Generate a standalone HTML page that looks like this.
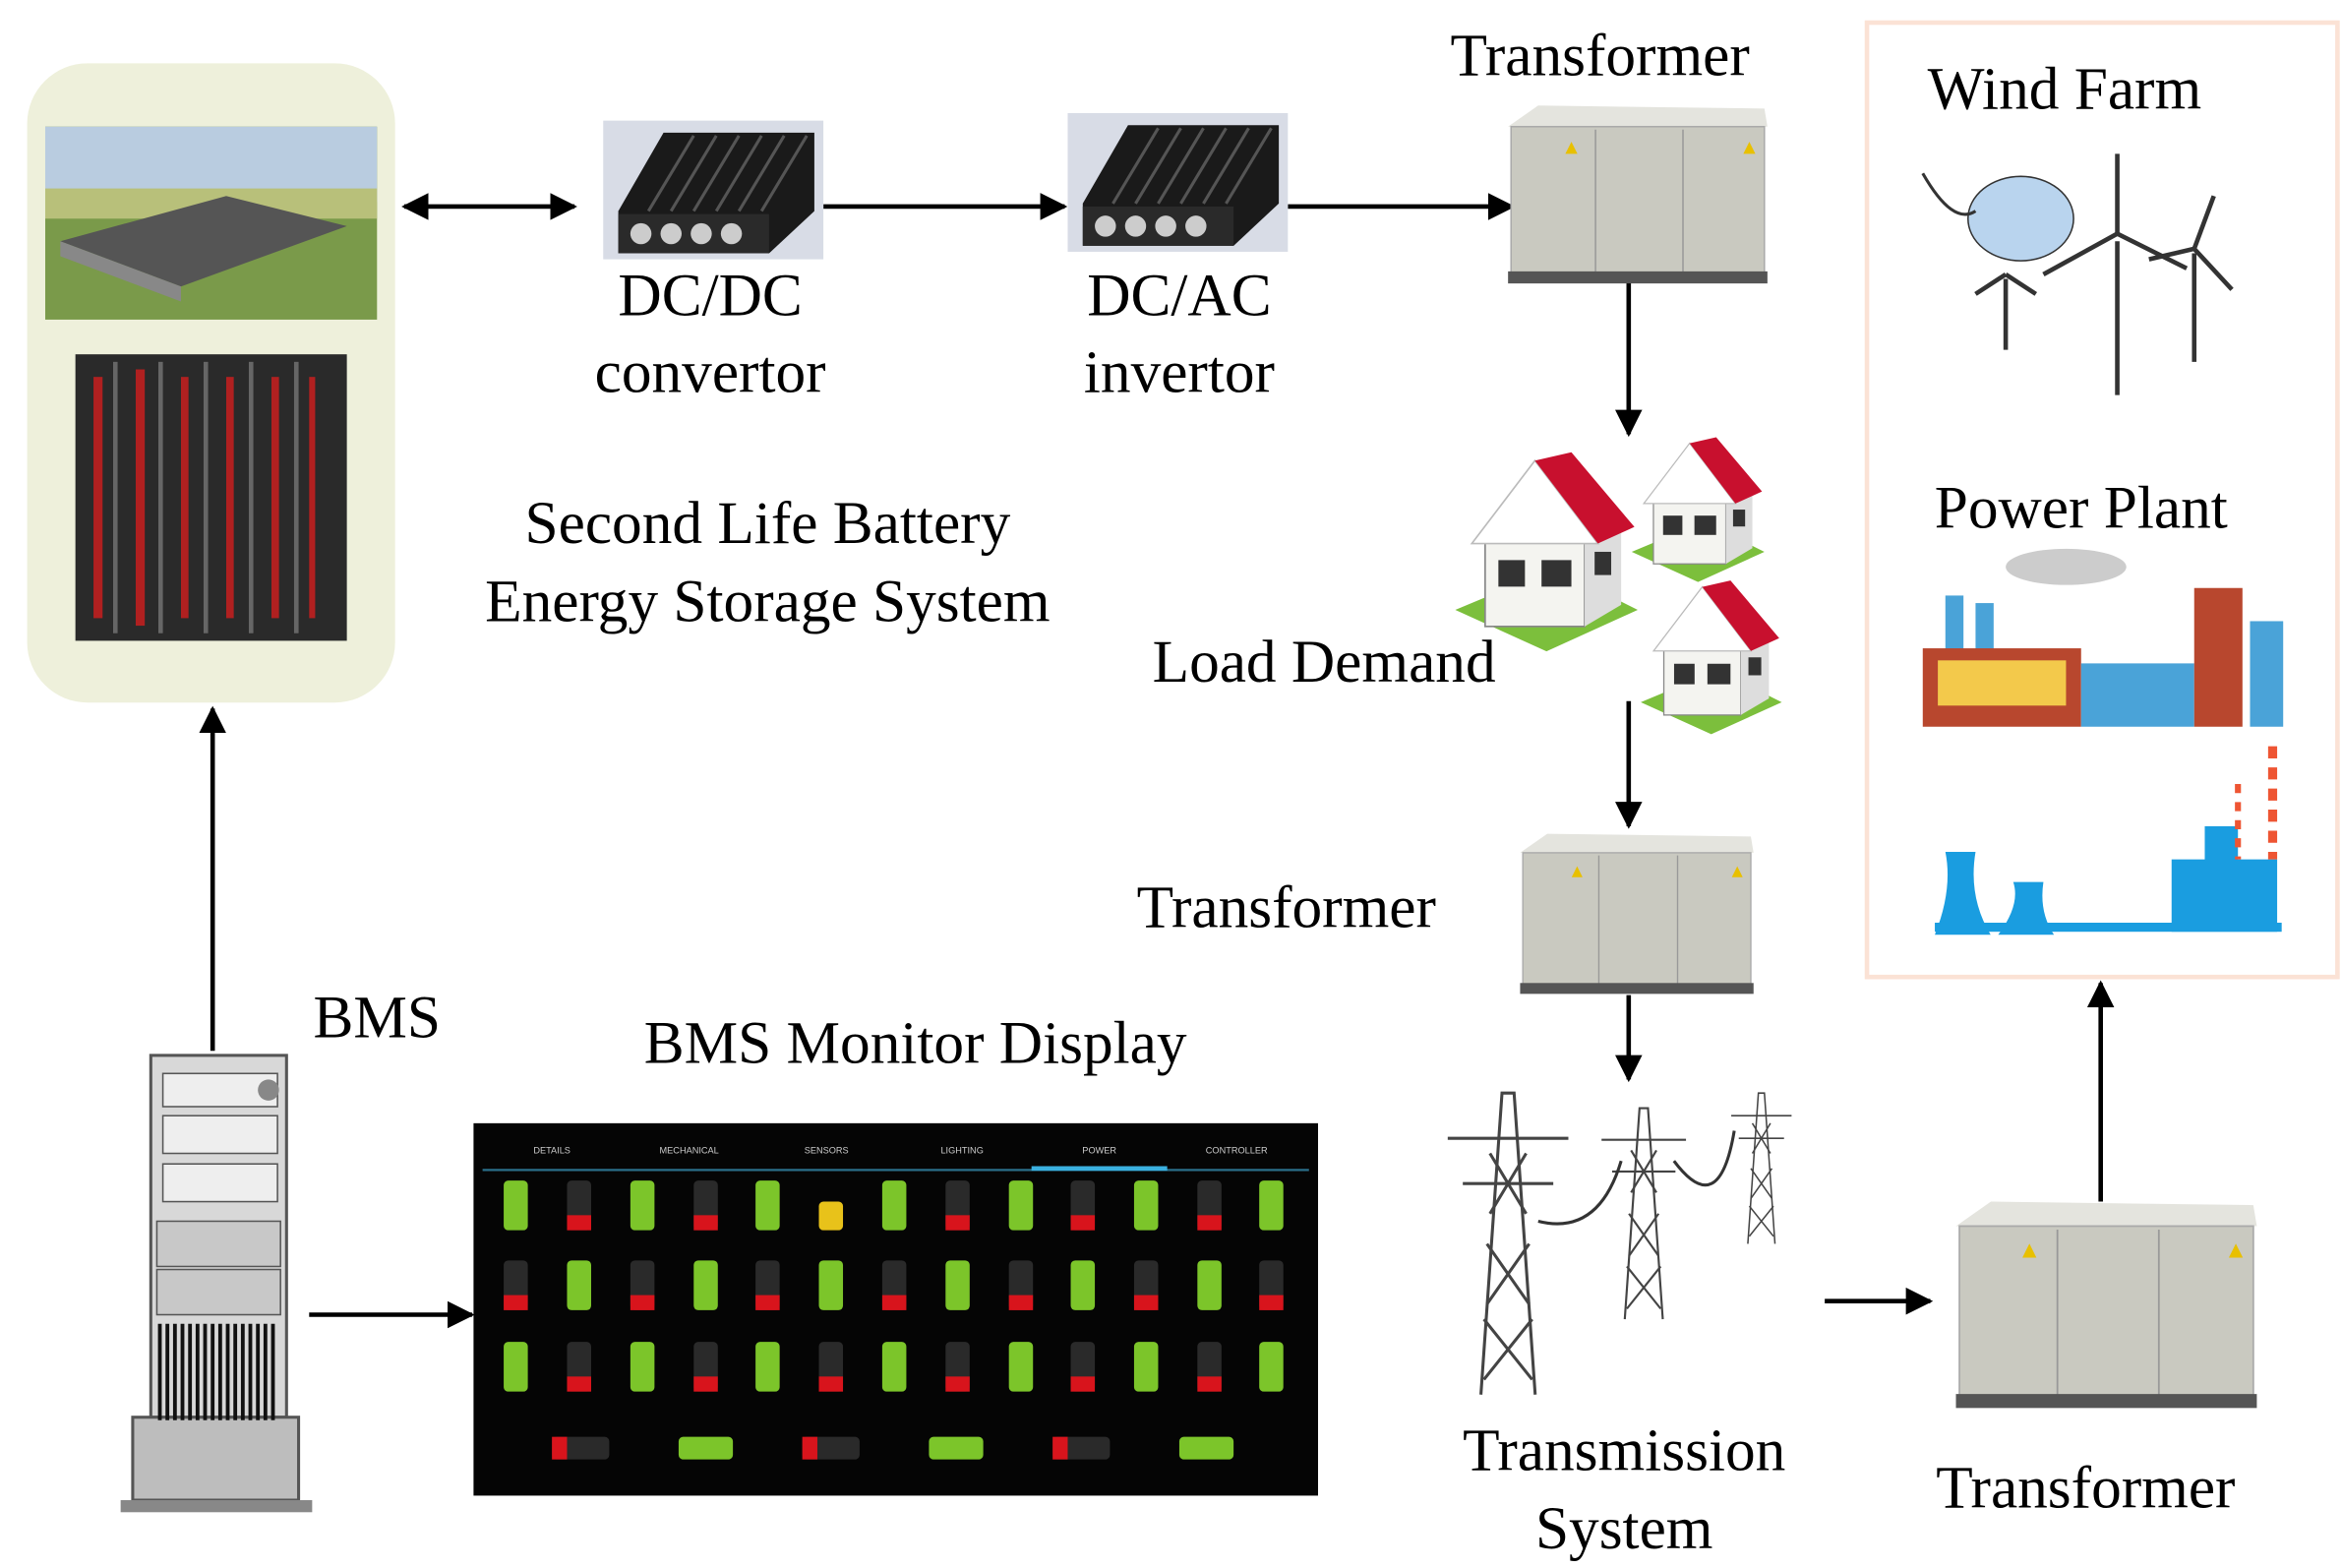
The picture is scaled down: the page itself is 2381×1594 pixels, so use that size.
<!DOCTYPE html>
<html><head><meta charset="utf-8"><style>
html,body{margin:0;padding:0;background:#fff;}
svg{display:block;}
text{font-family:"Liberation Serif",serif;fill:#000;}
</style></head><body>
<svg width="2381" height="1594" viewBox="0 0 1553 1040" preserveAspectRatio="none" xmlns="http://www.w3.org/2000/svg">
<defs>
<marker id="ah" viewBox="0 0 10 10" refX="9" refY="5" markerWidth="6" markerHeight="6" orient="auto-start-reverse"><path d="M0,0 L10,5 L0,10 z" fill="#000"/></marker>
<g id="trans">
<path d="M0,14 L20,0 L170,2 L172,14 Z" fill="#e4e4de"/>
<rect x="2" y="14" width="168" height="100" fill="#c9c9c0"/>
<rect x="2" y="14" width="168" height="100" fill="none" stroke="#aaa"/>
<line x1="58" y1="16" x2="58" y2="112" stroke="#999"/><line x1="116" y1="16" x2="116" y2="112" stroke="#999"/>
<rect x="0" y="110" width="172" height="8" fill="#555"/>
<polygon points="42,24 46,32 38,32" fill="#e8c000"/><polygon points="160,24 164,32 156,32" fill="#e8c000"/>
</g>
<g id="conv">
<rect x="0" y="0" width="146" height="92" fill="#d8dce6"/>
<path d="M10,60 L40,8 L140,8 L140,60 L110,88 L10,88 Z" fill="#1a1a1a"/>
<g stroke="#555" stroke-width="2"><line x1="30" y1="60" x2="60" y2="10"/><line x1="45" y1="60" x2="75" y2="10"/><line x1="60" y1="60" x2="90" y2="10"/><line x1="75" y1="60" x2="105" y2="10"/><line x1="90" y1="60" x2="120" y2="10"/><line x1="105" y1="60" x2="135" y2="10"/></g>
<rect x="10" y="62" width="100" height="26" fill="#2a2a2a"/>
<circle cx="25" cy="75" r="7" fill="#ccc"/><circle cx="45" cy="75" r="7" fill="#ccc"/><circle cx="65" cy="75" r="7" fill="#ccc"/><circle cx="85" cy="75" r="7" fill="#ccc"/>
</g>
<g id="house">
<polygon points="0,95 60,70 110,95 55,120" fill="#7cbf3c"/>
<rect x="18" y="45" width="60" height="60" fill="#f4f4f0" stroke="#888"/>
<polygon points="78,45 100,38 100,92 78,105" fill="#ddd"/>
<polygon points="10,55 48,5 86,55" fill="#fff" stroke="#bbb"/>
<polygon points="48,5 70,0 108,45 86,55" fill="#c8102e"/>
<rect x="26" y="65" width="16" height="16" fill="#333"/><rect x="52" y="65" width="18" height="16" fill="#333"/><rect x="84" y="60" width="10" height="14" fill="#333"/>
</g>
<g id="tower" fill="none" stroke="#444" stroke-width="2">
<path d="M-18,200 L-4,0 L4,0 L18,200"/><path d="M-40,30 L40,30 M-30,60 L30,60"/><path d="M-12,40 L12,80 M12,40 L-12,80 M-14,100 L14,140 M14,100 L-14,140 M-16,150 L16,190 M16,150 L-16,190"/>
</g>
</defs>

<!-- left panel -->
<rect x="18" y="42" width="244" height="424" rx="40" fill="#eef0db"/>
<rect x="30" y="84" width="220" height="128" fill="#7a9a4a"/>
<rect x="30" y="84" width="220" height="50" fill="#b9cce0"/>
<rect x="30" y="125" width="220" height="20" fill="#b8c07a"/>
<polygon points="40,160 150,130 230,150 120,190" fill="#555"/>
<polygon points="40,160 120,190 120,200 40,170" fill="#888"/>
<rect x="50" y="235" width="180" height="190" fill="#2a2a2a"/>
<g fill="#b02020"><rect x="62" y="250" width="6" height="160"/><rect x="90" y="245" width="6" height="170"/><rect x="120" y="250" width="5" height="160"/><rect x="150" y="250" width="5" height="160"/><rect x="180" y="250" width="5" height="160"/><rect x="205" y="250" width="4" height="160"/></g>
<g fill="#666"><rect x="75" y="240" width="3" height="180"/><rect x="105" y="240" width="3" height="180"/><rect x="135" y="240" width="3" height="180"/><rect x="165" y="240" width="3" height="180"/><rect x="195" y="240" width="3" height="180"/></g>

<!-- arrows top -->
<g stroke="#000" stroke-width="3" marker-end="url(#ah)">
<line x1="268" y1="137" x2="381" y2="137" marker-start="url(#ah)"/>
<line x1="546" y1="137" x2="706" y2="137"/>
<line x1="854" y1="137" x2="1003" y2="137"/>
<line x1="1080" y1="187" x2="1080" y2="288"/>
<line x1="1080" y1="465" x2="1080" y2="548"/>
<line x1="1080" y1="660" x2="1080" y2="716"/>
<line x1="1210" y1="863" x2="1280" y2="863"/>
<line x1="1393" y1="797" x2="1393" y2="652"/>
<line x1="141" y1="697" x2="141" y2="470"/>
<line x1="205" y1="872" x2="313" y2="872"/>
</g>

<use href="#conv" x="400" y="80"/>
<use href="#conv" x="708" y="75"/>
<text x="471" y="209" font-size="40" text-anchor="middle">DC/DC</text>
<text x="471" y="260" font-size="40" text-anchor="middle">convertor</text>
<text x="782" y="209" font-size="40" text-anchor="middle">DC/AC</text>
<text x="782" y="260" font-size="40" text-anchor="middle">invertor</text>
<text x="509" y="360" font-size="40" text-anchor="middle">Second Life Battery</text>
<text x="509" y="412" font-size="40" text-anchor="middle">Energy Storage System</text>

<text x="1061" y="50" font-size="40" text-anchor="middle">Transformer</text>
<use href="#trans" x="1000" y="70"/>
<use href="#house" x="965" y="300" transform="translate(965,300) scale(1.1) translate(-965,-300)"/>
<use href="#house" x="1082" y="290" transform="translate(1082,290) scale(0.8) translate(-1082,-290)"/>
<use href="#house" x="1088" y="385" transform="translate(1088,385) scale(0.85) translate(-1088,-385)"/>
<text x="878" y="452" font-size="40" text-anchor="middle">Load Demand</text>
<use href="#trans" x="1008" y="553" transform="translate(1008,553) scale(0.9,0.9) translate(-1008,-553)"/>
<text x="853" y="615" font-size="40" text-anchor="middle">Transformer</text>

<use href="#tower" x="1000" y="725"/>
<use href="#tower" x="1090" y="735" transform="translate(1090,735) scale(0.7) translate(-1090,-735)"/>
<use href="#tower" x="1168" y="725" transform="translate(1168,725) scale(0.5) translate(-1168,-725)"/>
<path d="M1020,810 Q1060,820 1075,770 M1110,770 Q1140,810 1150,750" fill="none" stroke="#333" stroke-width="2"/>
<text x="1077" y="975" font-size="40" text-anchor="middle">Transmission</text>
<text x="1077" y="1027" font-size="40" text-anchor="middle">System</text>

<use href="#trans" x="1297" y="797" transform="translate(1297,797) scale(1.16) translate(-1297,-797)"/>
<text x="1383" y="1000" font-size="40" text-anchor="middle">Transformer</text>

<!-- right box -->
<rect x="1238" y="15" width="312" height="633" fill="none" stroke="#fbe2d5" stroke-width="3"/>
<text x="1369" y="72" font-size="40" text-anchor="middle">Wind Farm</text>
<ellipse cx="1340" cy="145" rx="35" ry="28" fill="#b9d4ee" stroke="#333"/>
<path d="M1275,115 Q1295,150 1310,140" fill="none" stroke="#333" stroke-width="2"/>
<g stroke="#333" stroke-width="3" fill="none">
<line x1="1404" y1="160" x2="1404" y2="262"/><line x1="1404" y1="155" x2="1404" y2="102"/><line x1="1404" y1="155" x2="1355" y2="182"/><line x1="1404" y1="155" x2="1450" y2="178"/>
<line x1="1455" y1="168" x2="1455" y2="240"/><line x1="1455" y1="165" x2="1468" y2="130"/><line x1="1455" y1="165" x2="1425" y2="172"/><line x1="1455" y1="165" x2="1480" y2="192"/>
<line x1="1330" y1="185" x2="1330" y2="232"/><line x1="1330" y1="182" x2="1310" y2="195"/><line x1="1330" y1="182" x2="1350" y2="195"/>
</g>
<text x="1380" y="350" font-size="40" text-anchor="middle">Power Plant</text>
<ellipse cx="1370" cy="376" rx="40" ry="12" fill="#ccc"/>
<rect x="1290" y="395" width="12" height="40" fill="#4aa3d8"/><rect x="1310" y="400" width="12" height="35" fill="#4aa3d8"/>
<rect x="1275" y="430" width="105" height="52" fill="#b8472e"/>
<rect x="1285" y="438" width="85" height="30" fill="#f3c94b"/>
<rect x="1380" y="440" width="75" height="42" fill="#4aa3d8"/>
<rect x="1455" y="390" width="32" height="92" fill="#b8472e"/>
<rect x="1492" y="412" width="22" height="70" fill="#4aa3d8"/>
<path d="M1283,620 Q1295,590 1290,565 L1310,565 Q1305,595 1320,620 Z M1325,620 Q1340,600 1335,585 L1355,585 Q1352,605 1362,620 Z" fill="#1a9de0"/>
<rect x="1283" y="612" width="230" height="6" fill="#1a9de0"/>
<rect x="1440" y="570" width="70" height="48" fill="#1a9de0"/>
<rect x="1462" y="548" width="22" height="30" fill="#1a9de0"/>
<line x1="1507" y1="495" x2="1507" y2="570" stroke="#e53" stroke-width="6" stroke-dasharray="8,6"/>
<line x1="1484" y1="520" x2="1484" y2="570" stroke="#e53" stroke-width="4" stroke-dasharray="6,6"/>

<!-- BMS computer -->
<text x="250" y="688" font-size="40" text-anchor="middle">BMS</text>
<rect x="100" y="700" width="90" height="240" fill="#d8d8d8" stroke="#555" stroke-width="2"/>
<rect x="88" y="940" width="110" height="55" fill="#bdbdbd" stroke="#555" stroke-width="2"/>
<rect x="80" y="995" width="127" height="8" fill="#888"/>
<rect x="108" y="712" width="76" height="22" fill="#eee" stroke="#555"/><circle cx="178" cy="723" r="7" fill="#888"/>
<rect x="108" y="740" width="76" height="25" fill="#eee" stroke="#555"/>
<rect x="108" y="772" width="76" height="25" fill="#eee" stroke="#555"/>
<rect x="104" y="810" width="82" height="30" fill="#c8c8c8" stroke="#555"/>
<rect x="104" y="842" width="82" height="30" fill="#c8c8c8" stroke="#555"/>
<g stroke="#111" stroke-width="2.5"><path d="M106,878 V942 M111,878 V942 M116,878 V942 M121,878 V942 M126,878 V942 M131,878 V942 M136,878 V942 M141,878 V942 M146,878 V942 M151,878 V942 M156,878 V942 M161,878 V942 M166,878 V942 M171,878 V942 M176,878 V942 M181,878 V942"/></g>

<!-- monitor -->
<text x="607" y="705" font-size="40" text-anchor="middle">BMS Monitor Display</text>
<rect x="314" y="745" width="560" height="247" fill="#050505"/>
<line x1="320" y1="776" x2="868" y2="776" stroke="#2a6f8a" stroke-width="1.5"/>
<line x1="684" y1="775" x2="774" y2="775" stroke="#3ab0e0" stroke-width="3"/>
<g font-family="Liberation Sans,sans-serif" font-size="6" fill="#ccc" text-anchor="middle" style="font-family:'Liberation Sans',sans-serif">
<text x="366" y="765" style="fill:#ccc;font-family:'Liberation Sans',sans-serif">DETAILS</text>
<text x="457" y="765" style="fill:#ccc;font-family:'Liberation Sans',sans-serif">MECHANICAL</text>
<text x="548" y="765" style="fill:#ccc;font-family:'Liberation Sans',sans-serif">SENSORS</text>
<text x="638" y="765" style="fill:#ccc;font-family:'Liberation Sans',sans-serif">LIGHTING</text>
<text x="729" y="765" style="fill:#ccc;font-family:'Liberation Sans',sans-serif">POWER</text>
<text x="820" y="765" style="fill:#ccc;font-family:'Liberation Sans',sans-serif">CONTROLLER</text>
</g>
<g id="bats"></g>
<!-- batteries -->
<g>
<!-- row templates: G=green full, R=dark with red bottom, Y=yellow -->
<g fill="#7cc52a">
<rect x="334" y="783" width="16" height="33" rx="3"/><rect x="418" y="783" width="16" height="33" rx="3"/><rect x="501" y="783" width="16" height="33" rx="3"/><rect x="585" y="783" width="16" height="33" rx="3"/><rect x="669" y="783" width="16" height="33" rx="3"/><rect x="752" y="783" width="16" height="33" rx="3"/><rect x="835" y="783" width="16" height="33" rx="3"/>
<rect x="376" y="836" width="16" height="33" rx="3"/><rect x="460" y="836" width="16" height="33" rx="3"/><rect x="543" y="836" width="16" height="33" rx="3"/><rect x="627" y="836" width="16" height="33" rx="3"/><rect x="710" y="836" width="16" height="33" rx="3"/><rect x="794" y="836" width="16" height="33" rx="3"/>
<rect x="334" y="890" width="16" height="33" rx="3"/><rect x="418" y="890" width="16" height="33" rx="3"/><rect x="501" y="890" width="16" height="33" rx="3"/><rect x="585" y="890" width="16" height="33" rx="3"/><rect x="669" y="890" width="16" height="33" rx="3"/><rect x="752" y="890" width="16" height="33" rx="3"/><rect x="835" y="890" width="16" height="33" rx="3"/>
<rect x="450" y="953" width="36" height="15" rx="3"/><rect x="616" y="953" width="36" height="15" rx="3"/><rect x="782" y="953" width="36" height="15" rx="3"/>
</g>
<rect x="543" y="797" width="16" height="19" rx="3" fill="#e8c21a"/>
<g fill="#2a2a2a">
<rect x="376" y="783" width="16" height="33" rx="3"/><rect x="460" y="783" width="16" height="33" rx="3"/><rect x="627" y="783" width="16" height="33" rx="3"/><rect x="710" y="783" width="16" height="33" rx="3"/><rect x="794" y="783" width="16" height="33" rx="3"/>
<rect x="334" y="836" width="16" height="33" rx="3"/><rect x="418" y="836" width="16" height="33" rx="3"/><rect x="501" y="836" width="16" height="33" rx="3"/><rect x="585" y="836" width="16" height="33" rx="3"/><rect x="669" y="836" width="16" height="33" rx="3"/><rect x="752" y="836" width="16" height="33" rx="3"/><rect x="835" y="836" width="16" height="33" rx="3"/>
<rect x="376" y="890" width="16" height="33" rx="3"/><rect x="460" y="890" width="16" height="33" rx="3"/><rect x="543" y="890" width="16" height="33" rx="3"/><rect x="627" y="890" width="16" height="33" rx="3"/><rect x="710" y="890" width="16" height="33" rx="3"/><rect x="794" y="890" width="16" height="33" rx="3"/>
<rect x="366" y="953" width="38" height="15" rx="3"/><rect x="532" y="953" width="38" height="15" rx="3"/><rect x="698" y="953" width="38" height="15" rx="3"/>
</g>
<g fill="#d8141c">
<rect x="376" y="806" width="16" height="10"/><rect x="460" y="806" width="16" height="10"/><rect x="627" y="806" width="16" height="10"/><rect x="710" y="806" width="16" height="10"/><rect x="794" y="806" width="16" height="10"/>
<rect x="334" y="859" width="16" height="10"/><rect x="418" y="859" width="16" height="10"/><rect x="501" y="859" width="16" height="10"/><rect x="585" y="859" width="16" height="10"/><rect x="669" y="859" width="16" height="10"/><rect x="752" y="859" width="16" height="10"/><rect x="835" y="859" width="16" height="10"/>
<rect x="376" y="913" width="16" height="10"/><rect x="460" y="913" width="16" height="10"/><rect x="543" y="913" width="16" height="10"/><rect x="627" y="913" width="16" height="10"/><rect x="710" y="913" width="16" height="10"/><rect x="794" y="913" width="16" height="10"/>
<rect x="366" y="953" width="10" height="15"/><rect x="532" y="953" width="10" height="15"/><rect x="698" y="953" width="10" height="15"/>
</g>
</g>
</svg>
</body></html>
